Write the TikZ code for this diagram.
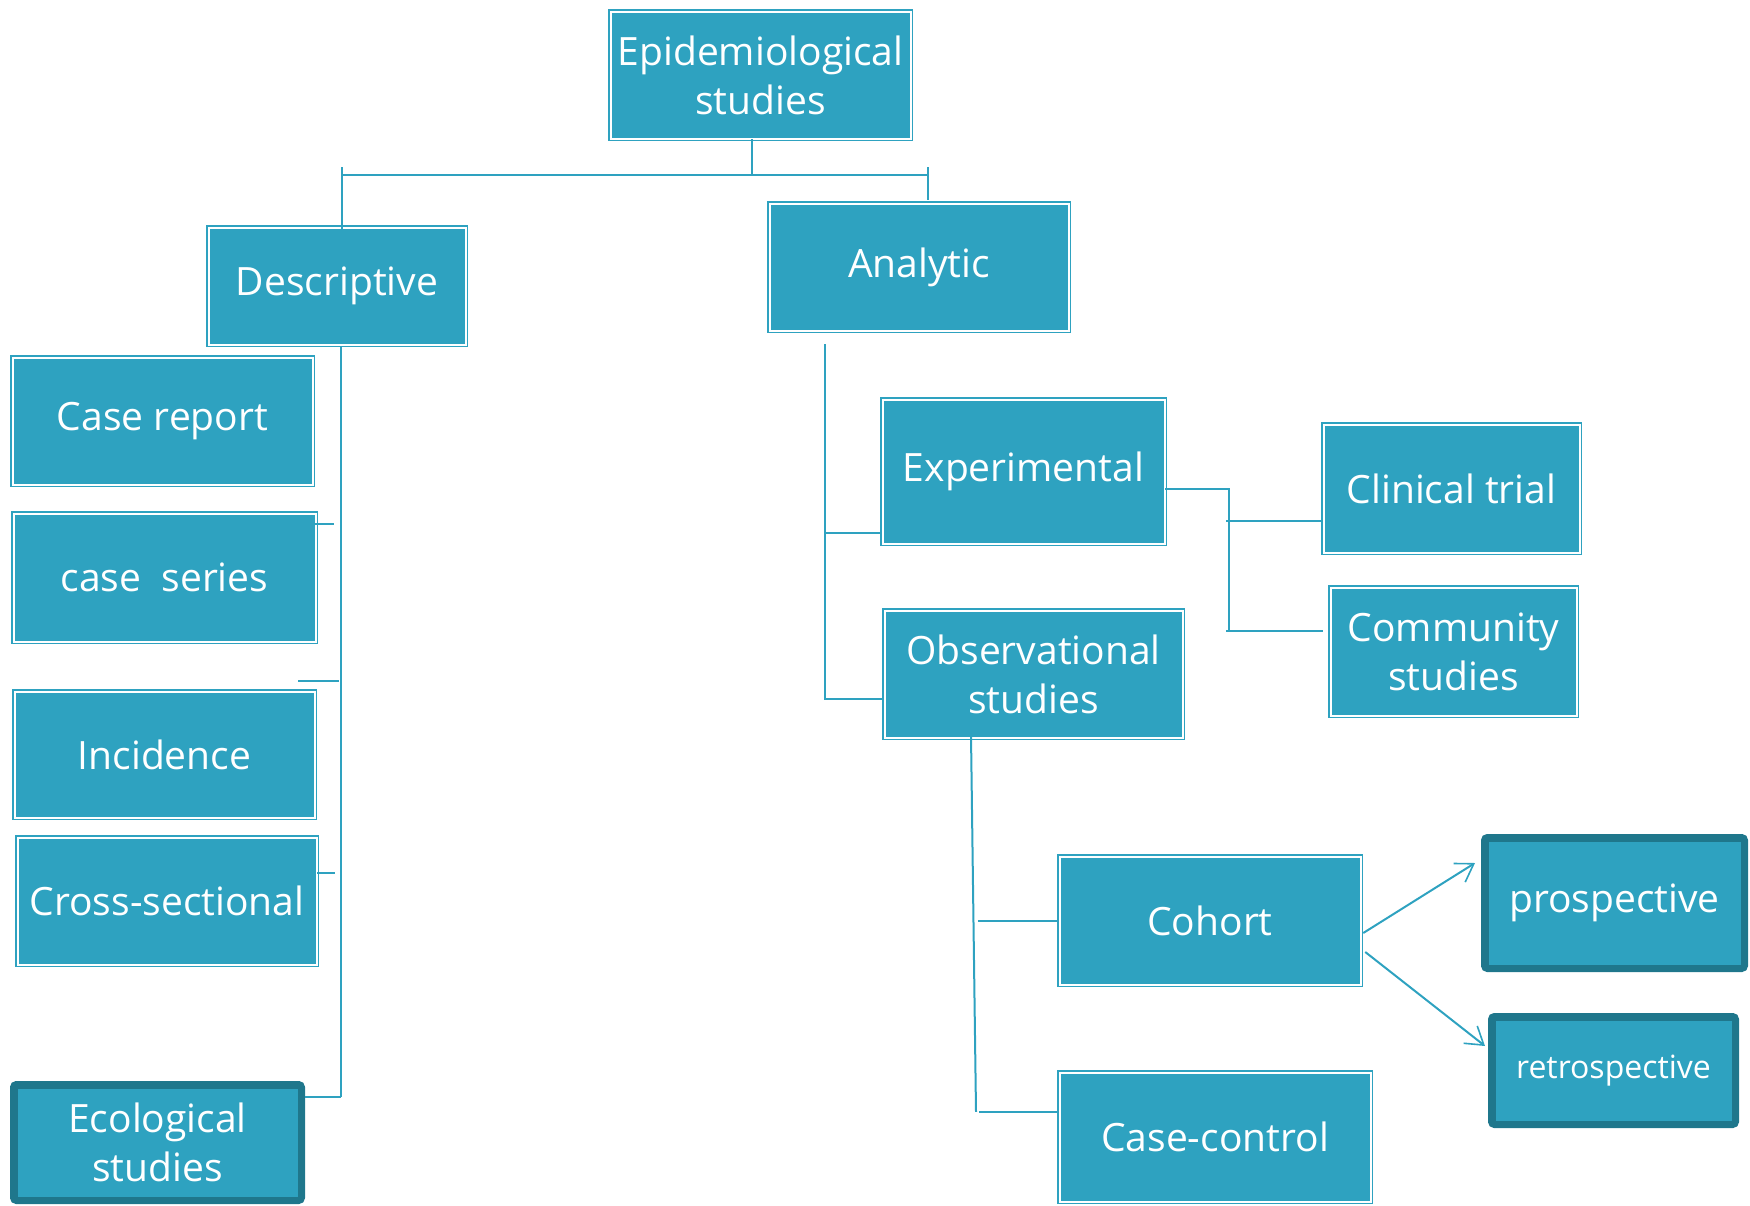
\documentclass[tikz,border=0pt]{standalone}
\usepackage{fontspec}
\setmainfont{Open Sans}
\usetikzlibrary{arrows.meta}
\definecolor{boxfill}{HTML}{2EA2C0}
\definecolor{boxdark}{HTML}{1F778C}

\begin{document}
\begin{tikzpicture}[x=0.5pt,y=-0.5pt,
    box/.style={fill=boxfill, draw=boxfill, double=white, double distance=1pt,
        line width=0.75pt, text=white, align=center, inner sep=0pt,
        font=\fontsize{19.5}{24.5}\selectfont},
    darkbox/.style={box, draw=boxdark, double=none, line width=3.5pt, rounded corners=1.5pt},
    inline/.style={boxdark, line width=1pt},
    link/.style={boxfill, line width=1pt},
    >={Straight Barb[length=8.5pt,width=11pt,line width=0.8pt]}]
    \useasboundingbox (0,0) rectangle (1750,1205);

    \node [box, minimum width=150pt, minimum height=63.5pt] (epi) at (760.5,75) {Epidemiological\\studies};
    \node [box, minimum width=128.5pt, minimum height=58.5pt] (desc) at (337,286) {Descriptive};
    \node [box, minimum width=149.5pt, minimum height=63.5pt] (analytic) at (919,267) {Analytic};

    \node [box, minimum width=150pt, minimum height=63.5pt] (caserep) at (162.5,421) {Case report};
    \node [box, minimum width=151pt, minimum height=64pt] (caseser) at (164.5,577.5) {case\ \ series};
    \node [box, minimum width=150pt, minimum height=63pt] (incid) at (164.5,754.5) {Incidence};
    \node [box, minimum width=149.5pt, minimum height=63.5pt] (cross) at (167,901) {Cross-sectional};
    \node [darkbox, minimum width=144pt, minimum height=58pt] (eco) at (157.5,1142.5) {Ecological\\studies};

    \node [box, minimum width=141pt, minimum height=72pt] (exper) at (1023.5,471.5) {Experimental};
    \node [box, minimum width=149pt, minimum height=63.5pt] (obs) at (1033.5,674) {Observational\\studies};
    \node [box, minimum width=128pt, minimum height=64pt] (clin) at (1451.5,488.5) {Clinical trial};
    \node [box, minimum width=123pt, minimum height=64pt] (comm) at (1453.5,651.5) {Community\\studies};
    \node [box, minimum width=150.5pt, minimum height=64pt] (cohort) at (1210,920.5) {Cohort};
    \node [box, minimum width=155.5pt, minimum height=64.5pt] (cc) at (1215,1137) {Case-control};
    \node [darkbox, minimum width=130pt, minimum height=65.5pt] (pro) at (1614.5,903) {prospective};
    \node [darkbox, minimum width=122pt, minimum height=54pt, font=\fontsize{16}{20}\selectfont] (retro) at (1613.5,1070.5) {retrospective};

    \foreach \n in {eco,pro,retro}
        \draw [inline] ([shift={(3.25pt,-3.25pt)}]\n.north west) rectangle ([shift={(-3.25pt,3.25pt)}]\n.south east);

    \coordinate (busL) at (342,175);
    \coordinate (busR) at (928,175);
    \draw [link] ([xshift=-4.25pt]epi.south) -- ([xshift=-4.25pt]epi.south |- busL);
    \draw [link] (busL) -- (busR);
    \draw [link] ([yshift=4pt]busL) -- ([yshift=-2pt]busL |- desc.north);
    \draw [link] ([yshift=4pt]busR) -- ([yshift=1.5pt]busR |- analytic.north);

    \draw [link] ([shift={(2pt,-1pt)}]desc.south) -- ++(0,750) coordinate (dbot);
    \draw [link] (dbot) -- (dbot -| eco.east);
    \draw [link] ([shift={(-2.5pt,-5.5pt)}]caseser.north east) -- ++(23,0);
    \draw [link] ([shift={(-8.5pt,5pt)}]incid.north east) -- ++(41,0);
    \draw [link] ([yshift=-18pt]cross.north east) -- ++(18,0);

    \coordinate (atop) at ([shift={(-47pt,-6.5pt)}]analytic.south);
    \coordinate (ex) at ([yshift=5.5pt]exper.south west);
    \coordinate (ob) at ([yshift=-12.5pt]obs.west);
    \draw [link] (atop) |- (ob);
    \draw [link] (atop |- ex) -- (ex);

    \coordinate (xr) at ([yshift=-8.75pt]exper.east);
    \coordinate (ct) at ([yshift=-16.25pt]clin.west);
    \coordinate (cm) at ([shift={(-3.5pt,10.25pt)}]comm.west);
    \draw [link] (xr) -- ++(64,0) coordinate (bx) -- (bx |- cm);
    \draw [link] ([xshift=-1.5pt]bx |- ct) -- (ct);
    \draw [link] ([xshift=-1.5pt]bx |- cm) -- (cm);

    \coordinate (otop) at ([shift={(-31.25pt,1.5pt)}]obs.south);
    \coordinate (ccw) at ([yshift=-20pt]cc.north west);
    \coordinate (obot) at (otop |- ccw);
    \draw [link] (otop) -- ([xshift=2.5pt]obot);
    \draw [link] ([xshift=-40.5pt]cohort.west) -- (cohort.west);
    \draw [link] ([xshift=4pt]obot) -- (ccw);

    \draw [link, ->] ([shift={(1pt,-6.25pt)}]cohort.east) -- ([shift={(-3pt,20pt)}]pro.west);
    \draw [link, ->] ([shift={(2pt,-15.75pt)}]cohort.east) -- ([shift={(-1.5pt,12.25pt)}]retro.west);
\end{tikzpicture}
\end{document}
